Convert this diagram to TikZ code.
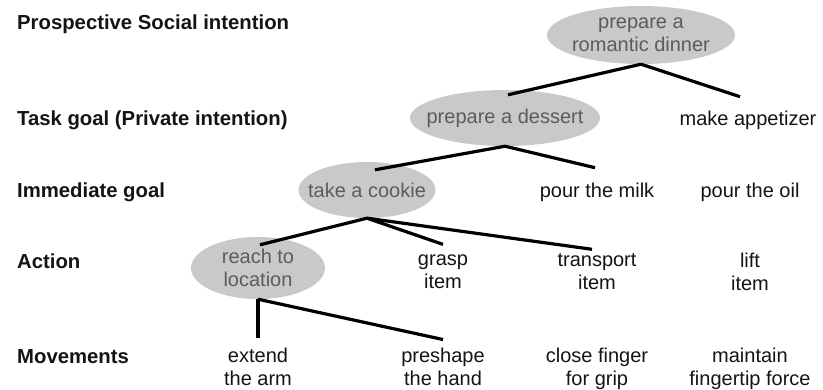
\documentclass[tikz,border=0pt]{standalone}
\usepackage{fontspec}
\setmainfont{Liberation Sans}
\usetikzlibrary{shapes.geometric}
\definecolor{goalfill}{gray}{0.79}
\definecolor{goalink}{gray}{0.36}
\definecolor{itemink}{gray}{0.08}

\tikzset{
	txt/.style={font=\fontsize{20bp}{23bp}\selectfont, align=center, inner sep=0pt},
	level/.style={txt, anchor=base west, font=\fontsize{20.3bp}{23bp}\selectfont\bfseries, text=itemink},
	goal/.style={ellipse, fill=goalfill, inner sep=0pt},
	goaltxt/.style={txt, text=goalink},
	item/.style={txt, text=itemink, inner ysep=10bp,
		execute at begin node=\strut, execute at end node=\strut},
	link/.style={line width=3.2bp}
}

\begin{document}
\begin{tikzpicture}[x=1bp,y=-1bp]
	\useasboundingbox (0,0) rectangle (823,389);
	% levels
	\node[level] (social) at (17,29) {Prospective Social intention};
	\node[level] (task) at (17,125) {Task goal (Private intention)};
	\node[level] (immediate) at (17,197) {Immediate goal};
	\node[level] (action) at (17,268) {Action};
	\node[level] (movement) at (17,363) {Movements};

	% chosen path
	\node[goal, minimum width=188bp, minimum height=58bp] (dinner) at (641,35) {};
	\node[goaltxt] at (dinner) {prepare a\\romantic dinner};
	\node[goal, minimum width=190bp, minimum height=56bp] (dessert) at (505,118) {};
	\node[goaltxt] at (dessert) {prepare a dessert};
	\node[goal, minimum width=137bp, minimum height=56bp] (cookie) at (367,190) {};
	\node[goaltxt] at (cookie) {take a cookie};
	\node[goal, minimum width=134bp, minimum height=62bp] (reach) at (258,268) {};
	\node[goaltxt] at (reach) {reach to\\location};

	% other items
	\node[item] (appetizer) at (748,120.4) {make appetizer};
	\node[item] (milk) at (597,192.4) {pour the milk};
	\node[item] (oil) at (750,192.4) {pour the oil};
	\node[item] (grasp) at (443,274.9) {grasp\\item};
	\node[item] (transport) at (597,274.9) {transport\\item};
	\node[item] (lift) at (750,274.9) {lift\\item};
	\node[item] (extend) at (258,369.9) {extend\\the arm};
	\node[item] (preshape) at (443,369.9) {preshape\\the hand};
	\node[item] (close) at (597,369.9) {close finger\\for grip};
	\node[item] (maintain) at (750,369.9) {maintain\\fingertip force};

	% tree
	\draw[link] (dinner.south) -- ([xshift=3bp,yshift=-5bp]dessert.north);
	\draw[link] (dinner.south) -- ([xshift=-8bp,yshift=2bp]appetizer.north);
	\draw[link] (dessert.south) -- ([xshift=8bp,yshift=-8bp]cookie.north);
	\draw[link] (dessert.south) -- ([xshift=-2bp,yshift=3bp]milk.north);
	\draw[link] (cookie.south) -- ([xshift=2bp,yshift=-8bp]reach.north);
	\draw[link] (cookie.south) -- (grasp.north);
	\draw[link] (cookie.south) -- ([xshift=-5bp,yshift=-6bp]transport.north);
	\draw[link] (reach.south) -- (extend.north);
	\draw[link] (reach.south) -- ([yshift=-2bp]preshape.north);
\end{tikzpicture}
\end{document}
